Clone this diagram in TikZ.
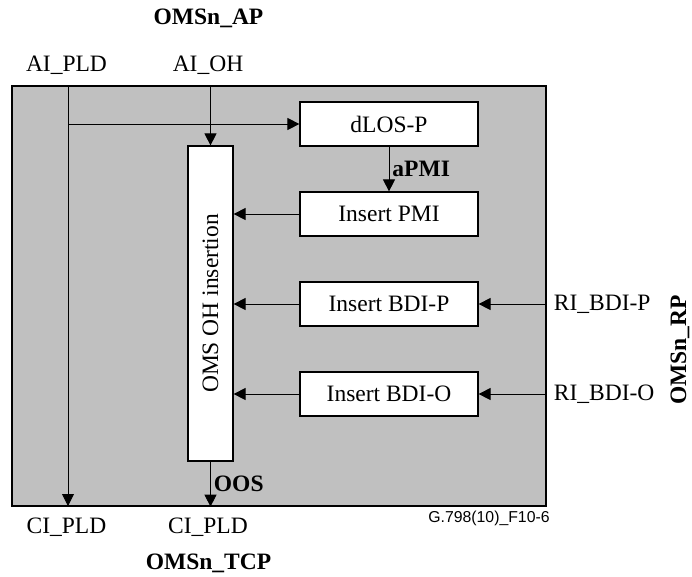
\documentclass[tikz,border=0pt]{standalone}
\usepackage{fontspec}
\setmainfont{Liberation Serif}
\newfontfamily\tagfont{Liberation Sans}
\usetikzlibrary{arrows.meta}
\definecolor{panel}{RGB}{192,192,192}
\begin{document}
\begin{tikzpicture}[x = 1pt, y = -1pt, font = \fontsize{23.5}{26}\selectfont,
	blk/.style = {draw = black, fill = white, line width = 1.2pt, minimum width = 178pt, minimum height = 44pt, inner sep = 0pt},
	sig/.style = {line width = 0.9pt, -{Triangle[length = 12pt, width = 12pt]}},
	hdr/.style = {font = \bfseries\fontsize{23.5}{26}\selectfont}]
	\useasboundingbox (0, 0) rectangle (692, 576);
	\node[draw = black, fill = panel, line width = 1.3pt, minimum width = 534pt, minimum height = 420pt] (frame) at (279, 296) {};
	\node[blk] (dlos) at (389, 124) {dLOS-P};
	\foreach \name/\y/\txt in {pmi/214/Insert PMI, bdip/304/Insert BDI-P, bdio/394/Insert BDI-O}{
		\node[blk] (\name) at (389, \y) {\txt};}
	\node[blk, minimum width = 45pt, minimum height = 315pt] (oh) at (210.5, 303.5) {};
	\node[rotate = 90] (ohtxt) at (oh.center) {OMS OH insertion};
	\coordinate (pldin) at (68, 86);
	\coordinate (pldout) at (68, 506);
	\coordinate (tap) at (68, 124);
	\draw[sig] (pldin) -- (pldout);
	\draw[sig] (tap) -- (dlos.west);
	\draw[sig] (oh.north |- frame.north) -- (oh.north);
	\draw[sig] (oh.south) -- (oh.south |- frame.south) node[midway, right, inner sep = 3pt, hdr] (oos) {OOS};
	\draw[sig] (dlos.south) -- (pmi.north) node[midway, right, inner sep = 3pt, hdr] (apmi) {aPMI};
	\foreach \name in {pmi, bdip, bdio}{
		\draw[sig] (\name.west) -- (\name.west -| oh.east);}
	\foreach \name/\txt in {bdip/RI\_BDI-P, bdio/RI\_BDI-O}{
		\draw[sig] (\name.east -| frame.east) -- (\name.east);
		\node[anchor = west, inner sep = 0pt] (ri\name) at ([xshift = 7pt]\name.east -| frame.east) {\txt};}
	\node[hdr] (ap) at (208.5, 18) {OMSn\_AP};
	\node (aipld) at (66.5, 65) {AI\_PLD};
	\node (aioh) at (208, 65) {AI\_OH};
	\node (cipld) at (66.5, 527) {CI\_PLD};
	\node (ciout) at (208, 527) {CI\_PLD};
	\node[hdr] (tcp) at (208.5, 563) {OMSn\_TCP};
	\node[hdr, rotate = 90] (rp) at (680, 350) {OMSn\_RP};
	\node[font = \tagfont\fontsize{15.8}{18}\selectfont] (fig) at (489, 518) {G.798(10)\_F10-6};
\end{tikzpicture}
\end{document}
